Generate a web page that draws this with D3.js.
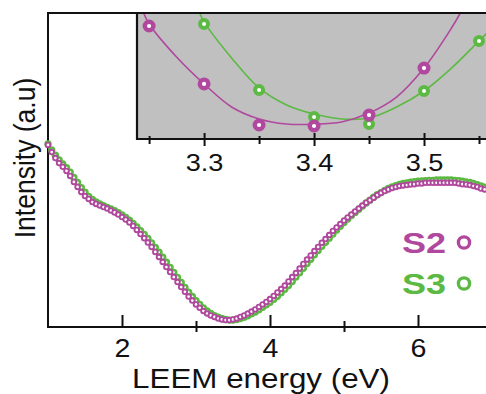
<!DOCTYPE html>
<html>
<head>
<meta charset="utf-8">
<script src="https://cdn.jsdelivr.net/npm/d3@7"></script>
<style>
  html, body { margin: 0; padding: 0; background: #fff; }
  svg { display: block; }
  text { font-family: "Liberation Sans", Arial, Helvetica, sans-serif; fill: #111; }
</style>
</head>
<body>
<svg id="chart" width="486" height="394"></svg>
<script>
// LEEM energy grid (eV)
const energy = [
  1.00,1.05,1.10,1.15,1.20,1.25,1.30,1.35,1.40,1.45,
  1.50,1.55,1.60,1.65,1.70,1.75,1.80,1.85,1.90,1.95,
  2.00,2.05,2.10,2.15,2.20,2.25,2.30,2.35,2.40,2.45,
  2.50,2.55,2.60,2.65,2.70,2.75,2.80,2.85,2.90,2.95,
  3.00,3.05,3.10,3.15,3.20,3.25,3.30,3.35,3.40,3.45,
  3.50,3.55,3.60,3.65,3.70,3.75,3.80,3.85,3.90,3.95,
  4.00,4.05,4.10,4.15,4.20,4.25,4.30,4.35,4.40,4.45,
  4.50,4.55,4.60,4.65,4.70,4.75,4.80,4.85,4.90,4.95,
  5.00,5.05,5.10,5.15,5.20,5.25,5.30,5.35,5.40,5.45,
  5.50,5.55,5.60,5.65,5.70,5.75,5.80,5.85,5.90,5.95,
  6.00,6.05,6.10,6.15,6.20,6.25,6.30,6.35,6.40,6.45,
  6.50,6.55,6.60,6.65,6.70,6.75,6.80,6.85,6.90
];

// Reflected intensity, sample S2 (a.u.)
const s2 = [
  58.0,55.7,53.8,52.2,51.0,49.7,48.1,46.2,44.6,43.0,
  41.7,40.8,39.8,39.2,38.7,38.2,37.7,37.1,36.5,35.8,
  35.0,34.2,33.3,32.2,30.9,29.6,28.3,26.9,25.5,23.9,
  22.3,20.7,19.1,17.5,15.9,14.3,12.7,11.2,9.7,8.4,
  7.2,6.1,5.1,4.3,3.7,3.2,2.7,2.4,2.2,2.2,
  2.4,2.7,3.2,3.7,4.3,4.9,5.6,6.4,7.2,8.0,
  8.9,9.9,11.0,12.1,13.2,14.5,15.9,17.2,18.6,20.1,
  21.5,22.8,24.2,25.5,26.8,28.0,29.3,30.6,31.7,32.8,
  33.9,34.9,35.8,36.8,37.7,38.7,39.6,40.4,41.2,42.0,
  42.7,43.3,43.8,44.3,44.6,44.9,45.1,45.2,45.4,45.5,
  45.7,45.7,45.9,45.9,45.9,45.9,45.9,45.9,45.9,45.9,
  45.9,45.7,45.5,45.4,45.2,44.9,44.6,44.1,43.8
];

// Reflected intensity, sample S3 (a.u.)
const s3 = [
  58.3,56.4,54.7,53.2,51.9,50.7,49.3,47.6,46.0,44.4,
  42.9,41.6,40.6,39.8,39.2,38.6,38.1,37.6,37.0,36.4,
  35.7,34.9,34.0,33.0,31.9,30.7,29.5,28.2,26.8,25.3,
  23.8,22.2,20.6,19.0,17.4,15.8,14.2,12.6,11.1,9.7,
  8.4,7.2,6.1,5.1,4.3,3.6,3.1,2.7,2.4,2.2,
  2.2,2.4,2.7,3.1,3.6,4.2,4.8,5.5,6.3,7.1,
  7.9,8.8,9.8,10.9,12.0,13.2,14.5,15.9,17.3,18.7,
  20.2,21.6,23.0,24.4,25.7,27.0,28.3,29.6,30.9,32.1,
  33.3,34.4,35.5,36.5,37.5,38.5,39.5,40.4,41.3,42.1,
  42.8,43.5,44.1,44.6,45.0,45.4,45.7,45.9,46.1,46.3,
  46.4,46.5,46.6,46.7,46.7,46.8,46.8,46.8,46.8,46.8,
  46.7,46.6,46.4,46.2,46.0,45.7,45.3,44.9,44.5
];

// Zoom around the minimum: measured points
const zoomEnergyS2 = [3.25, 3.30, 3.35, 3.40, 3.45, 3.50];
const zoomS2       = [89.7, 43.7, 11.1, 10.3, 19.0, 56.3];
const zoomEnergyS3 = [3.30, 3.35, 3.40, 3.45, 3.50, 3.55];
const zoomS3       = [91.3, 38.9, 17.5, 11.9, 38.1, 77.8];

// Zoom around the minimum: fitted curves
const fitEnergyS2 = [3.245, 3.25, 3.275, 3.30, 3.325, 3.35, 3.375, 3.40, 3.425, 3.45, 3.475, 3.50, 3.525, 3.533];
const fitS2       = [100, 91.3, 65.1, 43.7, 25.4, 15.9, 11.9, 11.7, 13.5, 20.6, 33.3, 56.3, 88.1, 100];
const fitEnergyS3 = [3.296, 3.30, 3.325, 3.35, 3.375, 3.40, 3.425, 3.45, 3.475, 3.50, 3.525, 3.55, 3.56];
const fitS3       = [100, 92.9, 64.3, 40.5, 27.0, 19.8, 15.9, 16.7, 25.4, 38.1, 56.3, 77.8, 86.5];

// Axis ticks
const mainMajorTicks = [2, 4, 6];
const mainMinorTicks = [3, 5];
const zoomMajorTicks = [3.3, 3.4, 3.5];
const zoomMinorTicks = [3.25, 3.35, 3.45, 3.55];

const seriesNames = ["S2", "S3"];
const colors = { S2: "#b0489e", S3: "#5cb943" };

const svg = d3.select("#chart");

// ---------- main panel ----------
const x = d3.scaleLinear().domain([1, 7]).range([48, 492]);
const y = d3.scaleLinear().domain([0, 100]).range([327, 13]);

// frame
svg.append("line").attr("x1", 48).attr("x2", 48).attr("y1", 12).attr("y2", 328)
  .attr("stroke", "#111").attr("stroke-width", 2);
svg.append("line").attr("x1", 47).attr("x2", 486).attr("y1", 13).attr("y2", 13)
  .attr("stroke", "#111").attr("stroke-width", 2);
svg.append("line").attr("x1", 47).attr("x2", 486).attr("y1", 327).attr("y2", 327)
  .attr("stroke", "#111").attr("stroke-width", 2);

// major ticks (inward) with labels
const majorAxis = svg.append("g").attr("transform", "translate(0,327)")
  .call(d3.axisBottom(x).tickValues(mainMajorTicks).tickFormat(d3.format("d"))
        .tickSizeInner(-12).tickSizeOuter(0).tickPadding(12));
// minor ticks crossing the axis
const minorAxis = svg.append("g").attr("transform", "translate(0,321)")
  .call(d3.axisBottom(x).tickValues(mainMinorTicks).tickFormat("")
        .tickSizeInner(11).tickSizeOuter(0));
[majorAxis, minorAxis].forEach(g => {
  g.select(".domain").remove();
  g.selectAll(".tick line").attr("stroke", "#111").attr("stroke-width", 2);
});
majorAxis.selectAll(".tick text")
  .attr("font-size", 26).attr("fill", "#111")
  .attr("transform", "scale(1.1,1)");

// axis titles
svg.append("text")
  .attr("transform", "translate(261,388) scale(1.12,1)")
  .attr("text-anchor", "middle").attr("font-size", 28)
  .text("LEEM energy (eV)");
svg.append("text")
  .attr("transform", "translate(35,158) scale(1.12,1) rotate(-90)")
  .attr("text-anchor", "middle").attr("font-size", 26.5)
  .text("Intensity (a.u)");

// spectra: S3 underneath, S2 on top
const spectra = { S2: s2, S3: s3 };
["S3", "S2"].forEach(name => {
  const vals = spectra[name];
  svg.append("g").selectAll("circle")
    .data(energy.map((e, i) => [e, vals[i]]))
    .join("circle")
    .attr("cx", d => x(d[0]))
    .attr("cy", d => y(d[1]))
    .attr("r", name === "S2" ? 2.3 : 2.4)
    .attr("fill", "#fff")
    .attr("stroke", colors[name])
    .attr("stroke-width", name === "S2" ? 1.9 : 2.6);
});

// legend
const legend = svg.append("g");
seriesNames.forEach((name, i) => {
  const ly = 253 + i * 41;
  legend.append("text")
    .attr("transform", `translate(402,${ly}) scale(1.2,1)`)
    .attr("font-size", 30).attr("font-weight", "bold")
    .style("fill", colors[name])
    .text(name);
  legend.append("circle")
    .attr("cx", 464).attr("cy", ly - 10.5).attr("r", 5.6)
    .attr("fill", "#fff").attr("stroke", colors[name]).attr("stroke-width", 3.4);
});

// ---------- zoom panel ----------
const xi = d3.scaleLinear().domain([3.239, 3.56]).range([137, 490]);
const yi = d3.scaleLinear().domain([0, 100]).range([139, 13]);

const inset = svg.append("g");
inset.append("clipPath").attr("id", "insetClip")
  .append("rect").attr("x", 137).attr("y", 13).attr("width", 360).attr("height", 126);
inset.append("rect")
  .attr("x", 137).attr("y", 13).attr("width", 360).attr("height", 126)
  .attr("fill", "#c0c0c0");

const fitLine = d3.line().x(d => xi(d[0])).y(d => yi(d[1])).curve(d3.curveCatmullRom.alpha(0.5));
const plot = inset.append("g").attr("clip-path", "url(#insetClip)");
plot.append("path")
  .attr("d", fitLine(fitEnergyS3.map((e, i) => [e, fitS3[i]])))
  .attr("fill", "none").attr("stroke", colors.S3).attr("stroke-width", 1.6);
plot.append("path")
  .attr("d", fitLine(fitEnergyS2.map((e, i) => [e, fitS2[i]])))
  .attr("fill", "none").attr("stroke", colors.S2).attr("stroke-width", 1.6);

plot.append("g").selectAll("circle")
  .data(zoomEnergyS3.map((e, i) => [e, zoomS3[i]]))
  .join("circle")
  .attr("cx", d => xi(d[0])).attr("cy", d => yi(d[1])).attr("r", 4)
  .attr("fill", "#fff").attr("stroke", colors.S3).attr("stroke-width", 4);
plot.append("g").selectAll("circle")
  .data(zoomEnergyS2.map((e, i) => [e, zoomS2[i]]))
  .join("circle")
  .attr("cx", d => xi(d[0])).attr("cy", d => yi(d[1])).attr("r", 4.3)
  .attr("fill", "#fff").attr("stroke", colors.S2).attr("stroke-width", 4.4);

// zoom panel frame: left, top, bottom
inset.append("path")
  .attr("d", `M497,13 H137 V139 H497`)
  .attr("fill", "none").attr("stroke", "#111").attr("stroke-width", 2.2);

const zMajor = inset.append("g").attr("transform", "translate(0,133)")
  .call(d3.axisBottom(xi).tickValues(zoomMajorTicks).tickFormat(d3.format(".1f"))
        .tickSizeInner(13).tickSizeOuter(0).tickPadding(9));
const zMinor = inset.append("g").attr("transform", "translate(0,136)")
  .call(d3.axisBottom(xi).tickValues(zoomMinorTicks).tickFormat("")
        .tickSizeInner(8).tickSizeOuter(0));
[zMajor, zMinor].forEach(g => {
  g.select(".domain").remove();
  g.selectAll(".tick line").attr("stroke", "#111").attr("stroke-width", 2);
});
zMajor.selectAll(".tick text")
  .attr("font-size", 23).attr("fill", "#111")
  .attr("transform", "scale(1.18,1)");
</script>
</body>
</html>
